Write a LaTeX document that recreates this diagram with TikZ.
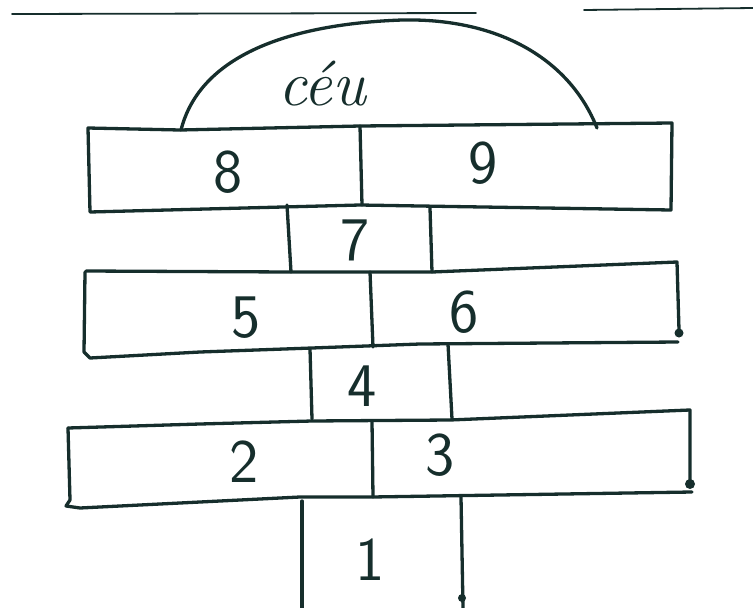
\documentclass[tikz,border=0pt]{standalone}
\usepackage{fontspec}
\definecolor{ink}{RGB}{22,46,44}
\tikzset{
  pen/.style={draw=ink, line width=3.3pt, line cap=round, line join=round},
  thin/.style={draw=ink, line width=1.8pt, line cap=round},
  num/.style={text=ink, font=\sffamily\fontsize{62}{62}\selectfont, inner sep=0pt},
  word/.style={text=ink, font=\itshape\fontsize{64}{64}\selectfont, inner sep=0pt},
  blob/.style={fill=ink, draw=none}
}
\begin{document}
\begin{tikzpicture}[x=1pt,y=-1pt]
\useasboundingbox (0,0) rectangle (753,608);
% top ruled lines
\draw[thin] (12,14) -- (476,13);
\draw[thin] (584,10) -- (753,8);
% sky arc
\draw[pen] (181,130) .. controls (200,55) and (290,24) .. (402,20)
  .. controls (500,18) and (570,60) .. (597,128);
\node[word] (ceu) at (322,84) {céu};
% row 8 / 9
\draw[pen] (88,128) -- (180,130) -- (360,126) -- (672,123) -- (671,210)
  -- (420,206) -- (360,205) -- (90,212) -- cycle;
\draw[pen] (360,126) -- (362,205);
\node[num] (n8) at (228,172) {8};
\node[num] (n9) at (483,163) {9};
% box 7
\draw[pen] (287,205) -- (291,272);
\draw[pen] (430,208) -- (432,272);
\node[num] (n7) at (355,240) {7};
% row 5 / 6
\draw[pen] (86,271) -- (290,272) -- (432,272) -- (677,262) -- (679,330);
\draw[pen] (85,272) -- (84,352) -- (90,358) -- (200,352) -- (312,348)
  -- (420,344) -- (678,342);
\fill[blob] (679,333) circle (4.5pt);
\draw[pen] (370,272) -- (373,347);
\node[num] (n5) at (246,318) {5};
\node[num] (n6) at (464,312) {6};
% box 4
\draw[pen] (310,349) -- (312,419);
\draw[pen] (448,344) -- (452,419);
\node[num] (n4) at (362,386) {4};
% row 2 / 3
\draw[pen] (68,428) -- (200,424) -- (312,421) -- (450,420) -- (690,410) -- (690,485);
\fill[blob] (690,484) circle (5pt);
\draw[pen] (68,428) -- (70,500) -- (66,506) -- (80,508) -- (200,502)
  -- (300,497) -- (372,497) -- (692,492);
\draw[pen] (372,421) -- (373,497);
\node[num] (n2) at (244,462) {2};
\node[num] (n3) at (440,455) {3};
% box 1
\draw[pen] (302,501) -- (302,608);
\draw[pen] (461,497) -- (463,608);
\fill[blob] (462,598) circle (4pt);
\node[num] (n1) at (370,560) {1};
\end{tikzpicture}
\end{document}
